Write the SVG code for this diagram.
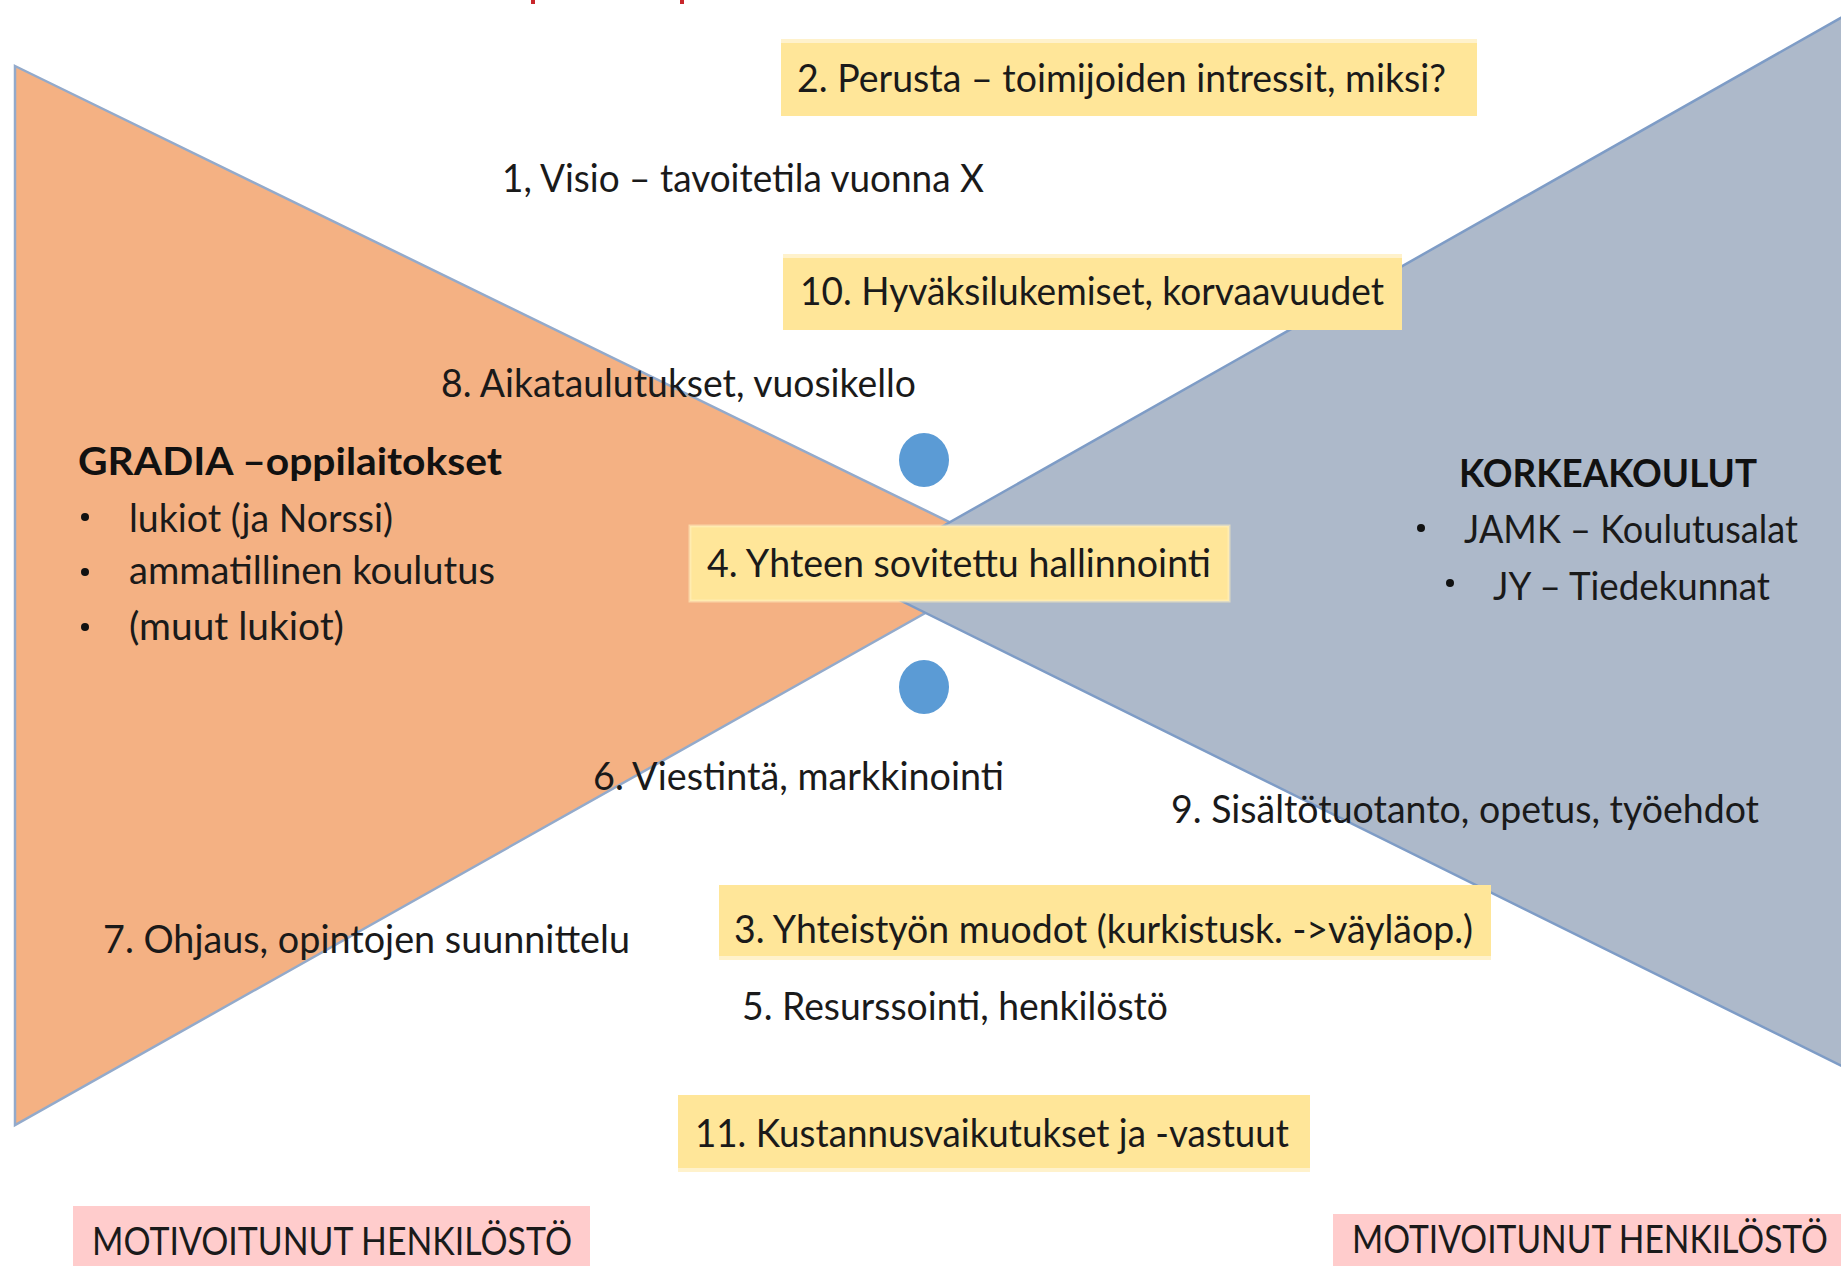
<svg xmlns="http://www.w3.org/2000/svg" width="1841" height="1266" viewBox="0 0 1841 1266">
<style>
.t{font-family:Lato,"Liberation Sans",sans-serif;font-size:38px;fill:#1a1a1a;}
.b{font-weight:bold;fill:#111;}
.yb{fill:#FFE699;}
.ys{fill:#FFF2CC;}
.pk{fill:#FFCCCC;}
.dot{fill:#5B9BD5;}
.bul{fill:#111;}
</style>
<rect width="1841" height="1266" fill="#ffffff"/>
<g id="title-remnants">
<rect x="531" y="0" width="4" height="4" fill="#C8262B"/>
<rect x="680" y="0" width="4" height="4" fill="#C8262B"/>
</g>
<g id="gradia-triangle">
<polygon points="15,66 1023,558 15,1125" fill="#F4B183" stroke="#93AACB" stroke-width="2.5"/>
</g>
<g id="korkeakoulut-triangle">
<polygon points="853,577 1860,7 1860,1075" fill="#ADB9CA" stroke="#7E9CC6" stroke-width="2.5"/>
</g>
<g id="dots">
<ellipse class="dot" cx="924" cy="460" rx="25" ry="27"/>
<ellipse class="dot" cx="924" cy="687" rx="25" ry="27"/>
</g>
<g id="node-gradia">
<text class="t b" x="78" y="475" textLength="424" lengthAdjust="spacingAndGlyphs">GRADIA –oppilaitokset</text>
<circle class="bul" cx="85" cy="517" r="4"/>
<text class="t" x="129" y="532" textLength="264" lengthAdjust="spacingAndGlyphs">lukiot (ja Norssi)</text>
<circle class="bul" cx="85" cy="572" r="4"/>
<text class="t" x="129" y="584" textLength="366" lengthAdjust="spacingAndGlyphs">ammatillinen koulutus</text>
<circle class="bul" cx="85" cy="627" r="4"/>
<text class="t" x="129" y="640" textLength="215" lengthAdjust="spacingAndGlyphs">(muut lukiot)</text>
</g>
<g id="node-korkeakoulut">
<text class="t b" x="1459" y="487" textLength="298" lengthAdjust="spacingAndGlyphs">KORKEAKOULUT</text>
<circle class="bul" cx="1421" cy="528" r="4"/>
<text class="t" x="1464" y="543" textLength="334" lengthAdjust="spacingAndGlyphs">JAMK – Koulutusalat</text>
<circle class="bul" cx="1450" cy="583" r="4"/>
<text class="t" x="1493" y="600" textLength="277" lengthAdjust="spacingAndGlyphs">JY – Tiedekunnat</text>
</g>
<g id="node-1">
<text class="t" x="502" y="192" textLength="482" lengthAdjust="spacingAndGlyphs">1, Visio – tavoitetila vuonna X</text>
</g>
<g id="node-2">
<rect class="yb" x="781" y="39" width="696" height="77"/>
<rect class="ys" x="781" y="39" width="696" height="4"/>
<text class="t" x="797" y="92" textLength="649" lengthAdjust="spacingAndGlyphs">2. Perusta – toimijoiden intressit, miksi?</text>
</g>
<g id="node-10">
<rect class="yb" x="783" y="254" width="619" height="76"/>
<rect class="ys" x="783" y="254" width="619" height="4"/>
<text class="t" x="800" y="305" textLength="584" lengthAdjust="spacingAndGlyphs">10. Hyväksilukemiset, korvaavuudet</text>
</g>
<g id="node-8">
<text class="t" x="441" y="397" textLength="475" lengthAdjust="spacingAndGlyphs">8. Aikataulutukset, vuosikello</text>
</g>
<g id="node-4">
<rect x="690" y="526" width="539" height="75" fill="#FFE699" stroke="#FFF0C0" stroke-opacity="0.6" stroke-width="3"/>
<text class="t" x="707" y="577" textLength="504" lengthAdjust="spacingAndGlyphs">4. Yhteen sovitettu hallinnointi</text>
</g>
<g id="node-6">
<text class="t" x="593" y="790" textLength="411" lengthAdjust="spacingAndGlyphs">6. Viestintä, markkinointi</text>
</g>
<g id="node-9">
<text class="t" x="1171" y="823" textLength="588" lengthAdjust="spacingAndGlyphs">9. Sisältötuotanto, opetus, työehdot</text>
</g>
<g id="node-7">
<text class="t" x="103" y="953" textLength="527" lengthAdjust="spacingAndGlyphs">7. Ohjaus, opintojen suunnittelu</text>
</g>
<g id="node-3">
<rect class="yb" x="719" y="885" width="772" height="75"/>
<rect class="ys" x="719" y="956" width="772" height="4"/>
<text class="t" x="734" y="943" textLength="739" lengthAdjust="spacingAndGlyphs">3. Yhteistyön muodot (kurkistusk. -&gt;väyläop.)</text>
</g>
<g id="node-5">
<text class="t" x="742" y="1020" textLength="426" lengthAdjust="spacingAndGlyphs">5. Resurssointi, henkilöstö</text>
</g>
<g id="node-11">
<rect class="yb" x="678" y="1095" width="632" height="77"/>
<rect class="ys" x="678" y="1168" width="632" height="4"/>
<text class="t" x="695" y="1147" textLength="594" lengthAdjust="spacingAndGlyphs">11. Kustannusvaikutukset ja -vastuut</text>
</g>
<g id="node-motivoitunut-left">
<rect class="pk" x="73" y="1206" width="517" height="60"/>
<text class="t" x="92" y="1255" textLength="480" lengthAdjust="spacingAndGlyphs">MOTIVOITUNUT HENKILÖSTÖ</text>
</g>
<g id="node-motivoitunut-right">
<rect class="pk" x="1333" y="1214" width="508" height="52"/>
<text class="t" x="1352" y="1253" font-size="36" textLength="476" lengthAdjust="spacingAndGlyphs">MOTIVOITUNUT HENKILÖSTÖ</text>
</g>
<g id="connectors"></g>
</svg>
